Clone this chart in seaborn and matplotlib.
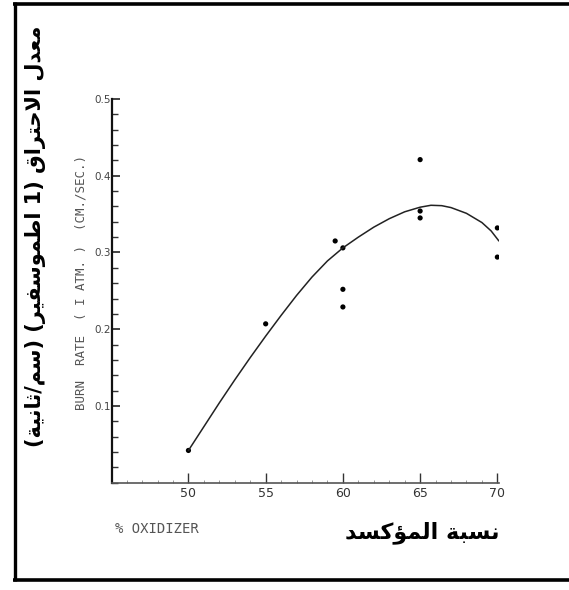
import matplotlib
matplotlib.use("Agg")
import matplotlib.pyplot as plt
from matplotlib.lines import Line2D
from matplotlib.ticker import MultipleLocator
import seaborn as sns
import pandas as pd

# ---------------- data ----------------
oxidizer = [50, 55, 59.5, 60, 60, 60, 65, 65, 65, 70, 70]
burn_rate = [0.042, 0.207, 0.315, 0.306, 0.252, 0.229, 0.421, 0.354, 0.345, 0.332, 0.294]

# fitted curve as drawn in the picture
curve_x = [50, 51, 52, 53, 54, 55, 56, 57, 58, 59, 60, 61, 62, 63, 64, 65,
           65.7, 66.4, 67, 68, 69, 69.6, 70.1]
curve_y = [0.042, 0.073, 0.104, 0.134, 0.163, 0.191, 0.218, 0.244, 0.268, 0.289,
           0.306, 0.320, 0.333, 0.344, 0.353, 0.359, 0.3615, 0.361, 0.3585, 0.351,
           0.339, 0.328, 0.315]

x_ticks = [50, 55, 60, 65, 70]
y_ticks = [0.1, 0.2, 0.3, 0.4, 0.5]
y_tick_labels = ["0.1", "0.2", "0.3", "0.4", "0.5"]

y_label_en = "BURN  RATE  ( I ATM. )  (CM./SEC.)"
x_label_en = "% OXIDIZER"
y_label_ar = "معدل الاحتراق (1 اطموسفير) (سم/ثانية)"
x_label_ar = "نسبة المؤكسد"

# ---------------- Arabic shaping (presentation forms) ----------------
FORMS = {  # iso, fin, ini, med  (None = does not join forward)
    "ا": ("\uFE8D", "\uFE8E", None, None),
    "ب": ("\uFE8F", "\uFE90", "\uFE91", "\uFE92"),
    "ة": ("\uFE93", "\uFE94", None, None),
    "ت": ("\uFE95", "\uFE96", "\uFE97", "\uFE98"),
    "ث": ("\uFE99", "\uFE9A", "\uFE9B", "\uFE9C"),
    "ح": ("\uFEA1", "\uFEA2", "\uFEA3", "\uFEA4"),
    "د": ("\uFEA9", "\uFEAA", None, None),
    "ر": ("\uFEAD", "\uFEAE", None, None),
    "س": ("\uFEB1", "\uFEB2", "\uFEB3", "\uFEB4"),
    "ط": ("\uFEC1", "\uFEC2", "\uFEC3", "\uFEC4"),
    "ع": ("\uFEC9", "\uFECA", "\uFECB", "\uFECC"),
    "ف": ("\uFED1", "\uFED2", "\uFED3", "\uFED4"),
    "ق": ("\uFED5", "\uFED6", "\uFED7", "\uFED8"),
    "ك": ("\uFED9", "\uFEDA", "\uFEDB", "\uFEDC"),
    "ل": ("\uFEDD", "\uFEDE", "\uFEDF", "\uFEE0"),
    "م": ("\uFEE1", "\uFEE2", "\uFEE3", "\uFEE4"),
    "ن": ("\uFEE5", "\uFEE6", "\uFEE7", "\uFEE8"),
    "و": ("\uFEED", "\uFEEE", None, None),
    "ي": ("\uFEF1", "\uFEF2", "\uFEF3", "\uFEF4"),
    "ؤ": ("\uFE85", "\uFE86", None, None),
    "LA": ("\uFEFB", "\uFEFC", None, None),
}


def shape_arabic(text):
    units = []
    i = 0
    while i < len(text):
        if text[i] == "ل" and i + 1 < len(text) and text[i + 1] == "ا":
            units.append("LA")
            i += 2
        else:
            units.append(text[i])
            i += 1
    out = []
    for k, u in enumerate(units):
        if u not in FORMS:
            out.append(u)
            continue
        iso, fin, ini, med = FORMS[u]
        prev = units[k - 1] if k > 0 else None
        nxt = units[k + 1] if k + 1 < len(units) else None
        join_prev = prev in FORMS and FORMS[prev][2] is not None
        join_next = ini is not None and nxt in FORMS
        if join_prev and join_next:
            out.append(med)
        elif join_prev:
            out.append(fin)
        elif join_next:
            out.append(ini)
        else:
            out.append(iso)
    vis = "".join(reversed(out))
    mirror = {"(": ")", ")": "("}
    return "".join(mirror.get(c, c) for c in vis)


# ---------------- figure ----------------
sns.set_theme(style="white")
plt.rcParams["font.family"] = ["DejaVu Sans"]

fig = plt.figure(figsize=(5.69, 5.90), dpi=100)
ax = fig.add_axes([0.1968, 0.1819, 0.680, 0.6503])

df_pts = pd.DataFrame({"oxidizer": oxidizer, "burn_rate": burn_rate})
df_curve = pd.DataFrame({"x": curve_x, "y": curve_y})

sns.lineplot(data=df_curve, x="x", y="y", ax=ax, color="#222222", linewidth=1.1,
             sort=False, estimator=None)
sns.scatterplot(data=df_pts, x="oxidizer", y="burn_rate", ax=ax, color="black",
                s=14, marker="o", edgecolor="none")

ax.set_xlim(45.05, 70.1)
ax.set_ylim(0, 0.5)
ax.set_xticks(x_ticks)
ax.set_xticklabels([str(t) for t in x_ticks])
ax.set_yticks(y_ticks)
ax.set_yticklabels(y_tick_labels)
ax.yaxis.set_minor_locator(MultipleLocator(0.02))
ax.xaxis.set_minor_locator(MultipleLocator(1))

ax.tick_params(axis="y", which="major", direction="in", length=6, width=1.2,
               labelsize=7.5, labelcolor="#444444", color="#222222", pad=1, left=True)
ax.tick_params(axis="y", which="minor", direction="in", length=4, width=1.0,
               color="#333333", left=True)
ax.tick_params(axis="x", which="major", direction="in", length=7, width=1.0,
               labelsize=9, labelcolor="#333333", color="#333333", pad=3, bottom=True)
ax.tick_params(axis="x", which="minor", direction="in", length=2, width=0.6,
               color="#888888", bottom=True)

for side in ["top", "right"]:
    ax.spines[side].set_visible(False)
ax.spines["left"].set_color("#111111")
ax.spines["left"].set_linewidth(1.6)
ax.spines["bottom"].set_color("#555555")
ax.spines["bottom"].set_linewidth(1.2)

ax.set_xlabel("")
ax.set_ylabel("")

# English axis labels
fig.text(81 / 569, 1 - 282 / 590, y_label_en, rotation=90, ha="center", va="center",
         fontsize=9, color="#555555", family=["DejaVu Sans Mono"])
fig.text(115 / 569, 1 - 529 / 590, x_label_en, ha="left", va="center",
         fontsize=10, color="#555555", family=["DejaVu Sans Mono"])

# Arabic labels
fig.text(36 / 569, 1 - 236 / 590, shape_arabic(y_label_ar), rotation=90,
         ha="center", va="center", fontsize=15, fontweight="bold", color="black",
         family=["DejaVu Sans"])
fig.text(422 / 569, 1 - 533 / 590, shape_arabic(x_label_ar), ha="center", va="center",
         fontsize=16, fontweight="bold", color="black", family=["DejaVu Sans"])

# Frame (left, top, bottom heavy rules)
W, H = 569, 590
fig.add_artist(Line2D([15 / W, 15 / W], [1 - 2 / H, 1 - 581 / H],
                      transform=fig.transFigure, color="black", linewidth=2.4,
                      solid_capstyle="butt"))
fig.add_artist(Line2D([13 / W, 1.0], [1 - 4 / H, 1 - 4 / H],
                      transform=fig.transFigure, color="black", linewidth=2.6,
                      solid_capstyle="butt"))
fig.add_artist(Line2D([13 / W, 1.0], [1 - 580 / H, 1 - 580 / H],
                      transform=fig.transFigure, color="black", linewidth=2.6,
                      solid_capstyle="butt"))

fig.savefig("out.png", dpi=100)
